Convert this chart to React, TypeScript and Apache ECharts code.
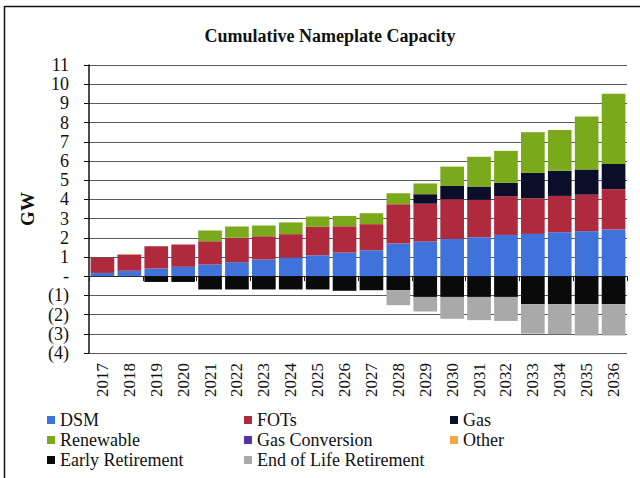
import React, { useEffect, useRef } from "react";
import * as echarts from "echarts";

const years = ["2017","2018","2019","2020","2021","2022","2023","2024","2025","2026","2027","2028","2029","2030","2031","2032","2033","2034","2035","2036"];

const dsm = [0.17,0.28,0.40,0.49,0.61,0.73,0.87,0.97,1.09,1.23,1.35,1.70,1.81,1.94,2.03,2.15,2.20,2.29,2.34,2.43];
const fots = [0.80,0.85,1.16,1.16,1.21,1.27,1.21,1.22,1.48,1.37,1.36,2.05,1.97,2.07,1.95,2.02,1.86,1.89,1.91,2.10];
const gas = [0,0,0,0,0,0,0,0,0,0,0,0,0.49,0.69,0.69,0.69,1.32,1.31,1.31,1.32];
const renewable = [0,0,0,0,0.56,0.59,0.56,0.61,0.54,0.54,0.57,0.57,0.56,1.01,1.55,1.67,2.12,2.13,2.76,3.65];
const gasConversion = [0,0,0,0,0,0,0,0,0,0,0,0,0,0,0,0,0,0,0,0];
const other = [0,0.03,0,0,0,0,0,0,0,0,0,0,0,0,0,0,0,0,0,0];
const earlyRetirement = [0,0,-0.3,-0.3,-0.69,-0.69,-0.69,-0.69,-0.69,-0.76,-0.73,-0.73,-1.08,-1.08,-1.08,-1.08,-1.46,-1.46,-1.46,-1.46];
const endOfLife = [0,0,0,0,0,0,0,0,0,0,0,-0.78,-0.76,-1.14,-1.21,-1.25,-1.53,-1.56,-1.63,-1.63];

const yTickLabels: Record<string, string> = {
  "-4": "(4)", "-3": "(3)", "-2": "(2)", "-1": "(1)", "0": "-",
};

const FONT = "Times New Roman, Liberation Serif, serif";

const seriesDefs = [
  { name: "DSM", data: dsm, color: "#3F72DA" },
  { name: "FOTs", data: fots, color: "#B02A3E" },
  { name: "Gas", data: gas, color: "#0B0E28" },
  { name: "Renewable", data: renewable, color: "#7BA91C" },
  { name: "Gas Conversion", data: gasConversion, color: "#5634A8" },
  { name: "Other", data: other, color: "#F0A848" },
  { name: "Early Retirement", data: earlyRetirement, color: "#0A0A0A" },
  { name: "End of Life Retirement", data: endOfLife, color: "#A9A9A9" },
];

const legendText = { fontFamily: FONT, fontSize: 18, color: "#111" };

export default function App() {
  const ref = useRef<HTMLDivElement>(null);

  useEffect(() => {
    if (!ref.current) return;
    const chart = echarts.init(ref.current, null, { renderer: "svg" });
    const legendCol = (names: string[], left: number) => ({
      orient: "vertical" as const,
      left,
      top: 406,
      height: 72,
      itemWidth: 8,
      itemHeight: 8,
      itemGap: 2,
      itemStyle: { borderWidth: 0 },
      icon: "rect",
      textStyle: legendText,
      data: names,
      selectedMode: false,
    });
    chart.setOption({
      animation: false,
      backgroundColor: "#fff",
      textStyle: { fontFamily: FONT },
      title: {
        text: "Cumulative Nameplate Capacity",
        left: 325,
        textAlign: "center",
        top: 22,
        textStyle: { fontFamily: FONT, fontSize: 18, fontWeight: "bold", color: "#111" },
      },
      graphic: [
        {
          type: "rect",
          shape: { x: 4.5, y: 6.5, width: 700, height: 600 },
          style: { fill: "none", stroke: "#111", lineWidth: 1.5 },
        },
      ],
      legend: [
        legendCol(["DSM", "Renewable", "Early Retirement"], 42),
        legendCol(["FOTs", "Gas Conversion", "End of Life Retirement"], 239),
        legendCol(["Gas", "Other"], 445),
      ],
      grid: { left: 89, right: 13, top: 65, bottom: 125, containLabel: false },
      xAxis: [
        {
          type: "category",
          data: years,
          position: "bottom",
          axisLine: { show: false, onZero: false },
          axisTick: { show: false },
          axisLabel: {
            rotate: 90,
            margin: 10,
            fontFamily: FONT,
            fontSize: 17,
            color: "#111",
            interval: 0,
          },
        },
        {
          type: "category",
          data: years,
          position: "bottom",
          axisLine: { show: true, onZero: true, lineStyle: { color: "#222", width: 1 } },
          axisTick: { show: true, length: 5, lineStyle: { color: "#222" } },
          axisLabel: { show: false },
        },
      ],
      yAxis: {
        type: "value",
        name: "GW",
        nameLocation: "middle",
        nameGap: 52,
        nameRotate: 90,
        nameTextStyle: { fontFamily: FONT, fontSize: 19, fontWeight: "bold", color: "#111" },
        min: -4,
        max: 11,
        interval: 1,
        axisLine: { show: true, lineStyle: { color: "#111", width: 1.5 } },
        axisTick: { show: true, length: 5, lineStyle: { color: "#111" } },
        axisLabel: {
          fontFamily: FONT,
          fontSize: 18,
          color: "#111",
          margin: 20,
          formatter: (v: number) => yTickLabels[String(v)] ?? String(v),
        },
        splitLine: { show: true, lineStyle: { color: "#5a5a5a", width: 1.2 } },
      },
      series: seriesDefs.map((s) => ({
        name: s.name,
        type: "bar",
        stack: "total",
        xAxisIndex: 0,
        barCategoryGap: "12%",
        itemStyle: { color: s.color },
        data: s.data,
      })),
    });
    return () => chart.dispose();
  }, []);

  return (
    <div
      ref={ref}
      style={{ position: "fixed", left: 0, top: 0, width: 640, height: 478 }}
    />
  );
}
